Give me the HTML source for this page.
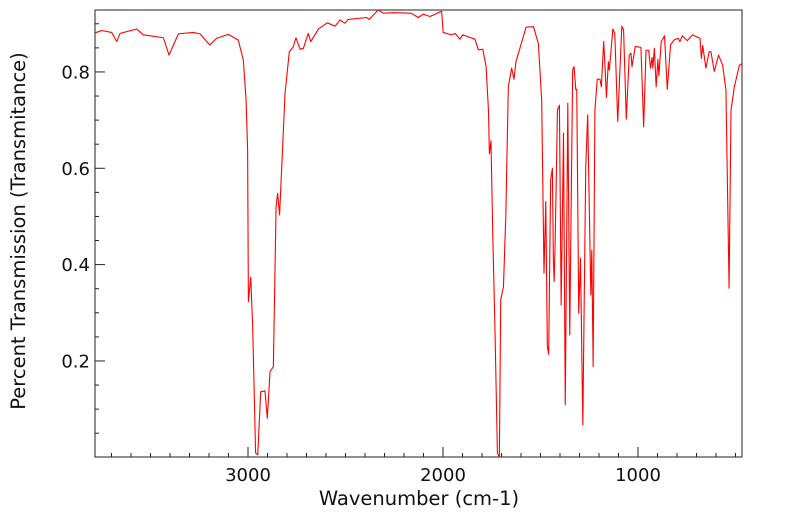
<!DOCTYPE html>
<html><head><meta charset="utf-8"><style>
html,body{margin:0;padding:0;background:#fff;}
svg{display:block;font-family:"DejaVu Sans","Liberation Sans",sans-serif;}
</style></head><body>
<svg id="chart" width="799" height="516" viewBox="0 0 799 516" xmlns="http://www.w3.org/2000/svg">
<defs><clipPath id="clip"><rect x="95" y="10" width="647" height="447"/></clipPath></defs>
<rect x="95" y="10" width="647" height="447" fill="#fff" stroke="#222" stroke-width="1"/>
<g id="xticks"></g>
<g id="yticks"></g>
<path id="spectrum" fill="none" stroke="#ff0000" stroke-width="1.1" stroke-linejoin="round" clip-path="url(#clip)"/>
<text x="419" y="505" font-size="19.5" text-anchor="middle" fill="#111">Wavenumber (cm-1)</text>
<text transform="translate(25,231) rotate(-90)" font-size="19.5" text-anchor="middle" fill="#111">Percent Transmission (Transmitance)</text>
</svg>
<script>
const wavenumbers = [3785,3750,3699,3673,3656,3571,3537,3434,3405,3357,3281,3246,3196,3161,3101,3050,3024,3010,3002,2998,2986,2976,2961,2950,2935,2913,2901,2887,2870,2856,2848,2838,2827,2810,2788,2768,2754,2733,2716,2691,2678,2639,2593,2554,2528,2503,2486,2391,2378,2332,2306,2255,2164,2127,2101,2067,2007,1999,1955,1938,1913,1899,1836,1819,1796,1779,1767,1762,1754,1745,1733,1721,1711,1704,1690,1678,1665,1648,1636,1626,1574,1536,1511,1494,1482,1473,1465,1458,1448,1439,1434,1430,1425,1413,1403,1394,1382,1373,1360,1350,1335,1328,1319,1314,1304,1295,1283,1268,1258,1242,1237,1230,1221,1209,1195,1188,1176,1169,1162,1152,1147,1129,1119,1104,1083,1074,1060,1045,1036,1031,1014,985,971,959,945,936,928,924,916,907,898,893,881,864,850,833,816,795,785,773,747,721,682,675,668,652,635,626,609,587,566,549,533,523,506,480,463];
const transmission = [.881,.886,.882,.863,.880,.889,.877,.871,.835,.879,.882,.879,.856,.870,.878,.866,.825,.742,.638,.323,.374,.271,.009,.005,.136,.138,.081,.178,.188,.520,.548,.503,.603,.756,.842,.852,.871,.847,.849,.880,.863,.889,.902,.895,.908,.901,.909,.913,.909,.929,.922,.923,.922,.913,.920,.915,.926,.882,.877,.880,.868,.877,.868,.846,.847,.811,.721,.630,.657,.466,.257,.009,0,.327,.354,.500,.769,.808,.785,.821,.893,.894,.859,.742,.382,.531,.230,.214,.576,.600,.410,.365,.444,.721,.731,.316,.673,.109,.735,.254,.804,.811,.763,.764,.299,.413,.067,.603,.711,.337,.430,.188,.721,.785,.785,.769,.863,.811,.747,.821,.804,.889,.880,.697,.895,.887,.702,.835,.839,.811,.853,.851,.686,.845,.845,.808,.830,.808,.849,.769,.826,.792,.863,.875,.764,.856,.866,.870,.863,.875,.865,.877,.870,.828,.855,.808,.842,.842,.801,.835,.814,.763,.351,.721,.769,.814,.818];
const xTickValues = [3000,2000,1000];
const yTickValues = [0.2,0.4,0.6,0.8];
const NS = "http://www.w3.org/2000/svg";
function xScale(w){ return 248 + (3000 - w) * 0.195; }
function yScale(t){ return 457.3 - t * 481.7; }
function mk(tag, attrs, parent){ const e=document.createElementNS(NS,tag); for(const k in attrs) e.setAttribute(k,attrs[k]); parent.appendChild(e); return e; }
const xg=document.getElementById('xticks'), yg=document.getElementById('yticks');
for(let w=3700; w>=500; w-=100){
  const major = xTickValues.includes(w);
  const x=xScale(w);
  const t=mk('line',{x1:x,x2:x,y1:457,y2:major?447:453,stroke:'#222','stroke-width':1},xg);
  
  
}
xTickValues.forEach(w=>{
  const l=mk('text',{x:xScale(w),y:481,'font-size':18,'text-anchor':'middle',fill:'#111'},xg);
  l.textContent=String(w);
  
  
});
for(let i=1;i<=18;i++){
  const v=i*0.05, major=(i%4===0);
  const y=yScale(v);
  const t=mk('line',{x1:95,x2:major?105:99,y1:y,y2:y,stroke:'#222','stroke-width':1},yg);
  
  
}
yTickValues.forEach(v=>{
  const l=mk('text',{x:90,y:yScale(v)+6.5,'font-size':18,'text-anchor':'end',fill:'#111'},yg);
  l.textContent=v.toFixed(1);
  
  
});
let d='';
wavenumbers.forEach((w,i)=>{ d += (i?'L':'M') + xScale(w).toFixed(2) + ',' + yScale(transmission[i]).toFixed(2); });
document.getElementById('spectrum').setAttribute('d', d);
</script>
</body></html>
